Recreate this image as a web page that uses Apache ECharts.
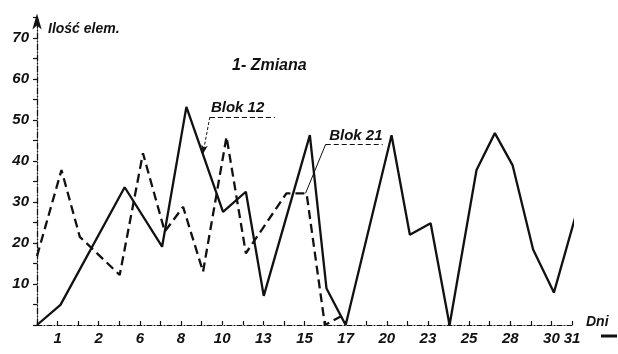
<!DOCTYPE html>
<html>
<head>
<meta charset="utf-8">
<style>
  html, body { margin: 0; padding: 0; background: #fff; }
  #chart { width: 618px; height: 354px; }
</style>
<script src="https://cdn.jsdelivr.net/npm/echarts@6/dist/echarts.min.js"></script>
</head>
<body>
<div id="chart"></div>
<script>
// Horizontal positions are measured in axis steps (one step per tick mark);
// the day numbers written under the axis sit at selected steps.
const dayTickSteps  = [1, 3, 5, 7, 9, 11, 13, 15, 17, 19, 21, 23, 25, 26];
const dayTickLabels = ['1', '2', '6', '8', '10', '13', '15', '17', '20', '23', '25', '28', '30', '31'];

// Blok 12 (solid line)
const blok12Steps  = [0, 1.14, 4.26, 6.08, 7.26, 9.04, 10.15, 11.02, 13.26, 14.07, 15.0, 17.23, 18.12, 19.13, 20.05, 21.36, 22.25, 23.11, 24.11, 25.12, 26.22];
const blok12Values = [0, 4.9, 33.6, 19.1, 53.2, 27.6, 32.5, 7.1, 46.3, 8.9, 0, 46.3, 22, 24.8, 0, 37.8, 46.8, 39, 18.4, 7.9, 27.4];

// Blok 21 (dashed line)
const blok21Steps  = [0, 1.19, 2.08, 4.02, 5.15, 6.21, 7.1, 8.07, 9.21, 10.15, 12.12, 13.1, 13.99, 14.88];
const blok21Values = [16.8, 37.8, 21.5, 12.2, 41.9, 22.8, 28.8, 13, 45.9, 17.5, 32.1, 32.1, 0, 2.4];

const INK = '#111';
const HAND = { fontFamily: 'Liberation Sans', fontStyle: 'italic', fontWeight: 'bold', color: INK };

function pairs(xs, ys) { return xs.map((x, i) => [x, ys[i]]); }

const chart = echarts.init(document.getElementById('chart'), null, { renderer: 'canvas' });

chart.setOption({
  animation: false,
  backgroundColor: '#fff',
  grid: { left: 37, right: 46, top: 17.5, bottom: 29, containLabel: false },
  xAxis: {
    type: 'value',
    min: 0, max: 26, interval: 1,
    axisLine: { show: true, lineStyle: { color: INK, width: 1.2, type: [5, 2, 1, 2] } },
    axisTick: { show: true, inside: true, length: 4, lineStyle: { color: INK, width: 1.2 } },
    axisLabel: {
      ...HAND, fontSize: 15, margin: 6,
      formatter: v => { const i = dayTickSteps.indexOf(v); return i >= 0 ? dayTickLabels[i] : ''; }
    },
    splitLine: { show: false }
  },
  yAxis: {
    type: 'value',
    min: 0, max: 75, interval: 5,
    axisLine: {
      show: true, symbol: ['none', 'arrow'], symbolSize: [7, 16], symbolOffset: [0, 4],
      lineStyle: { color: INK, width: 1.3, type: [6, 2, 1, 2] }
    },
    axisTick: { show: true, length: 4, lineStyle: { color: INK, width: 1.2 } },
    axisLabel: {
      ...HAND, fontSize: 15, margin: 8,
      formatter: v => (v > 0 && v <= 70 && v % 10 === 0) ? String(v) : ''
    },
    splitLine: { show: false }
  },
  series: [
    {
      name: 'Blok 12',
      type: 'line',
      data: pairs(blok12Steps, blok12Values),
      clip: false,
      symbol: 'none',
      lineStyle: { color: INK, width: 2.3 },
      markLine: {
        silent: true,
        symbol: ['none', 'none'],
        label: { show: false },
        data: [
          [
            { coord: [8.4, 50.7], symbol: 'none', lineStyle: { color: INK, width: 1, type: [3, 2] } },
            { coord: [8.06, 41.7], symbol: 'arrow', symbolSize: [5, 9] }
          ],
          [
            { coord: [8.4, 50.7], lineStyle: { color: INK, width: 1, type: [5, 3] } },
            { coord: [11.56, 50.7] }
          ]
        ]
      },
      markPoint: {
        silent: true,
        symbol: 'circle', symbolSize: 0,
        data: [{
          coord: [8.45, 50.7],
          label: { show: true, formatter: 'Blok 12', position: [0, -17], ...HAND, fontSize: 15 }
        }]
      }
    },
    {
      name: 'Blok 21',
      type: 'line',
      data: pairs(blok21Steps, blok21Values),
      clip: false,
      symbol: 'none',
      lineStyle: { color: INK, width: 2.3, type: [9, 5] },
      markLine: {
        silent: true,
        symbol: ['none', 'none'],
        label: { show: false },
        data: [
          [
            { coord: [14.03, 44.1], lineStyle: { color: INK, width: 1, type: 'solid' } },
            { coord: [13.05, 32.1] }
          ],
          [
            { coord: [14.03, 44.1], lineStyle: { color: INK, width: 1, type: [5, 3] } },
            { coord: [16.8, 44.1] }
          ]
        ]
      },
      markPoint: {
        silent: true,
        symbol: 'circle', symbolSize: 0,
        data: [{
          coord: [14.2, 44.1],
          label: { show: true, formatter: 'Blok 21', position: [0, -16], ...HAND, fontSize: 15 }
        }]
      }
    }
  ],
  graphic: [
    {
      type: 'text', left: 232, top: 58,
      style: { text: '1- Zmiana', font: 'italic bold 16px "Liberation Sans"', fill: INK }
    },
    {
      type: 'text', left: 48, top: 22,
      style: { text: 'Ilość elem.', font: 'italic bold 14px "Liberation Sans"', fill: INK }
    },
    {
      type: 'text', left: 586, top: 315,
      style: { text: 'Dni', font: 'italic bold 14px "Liberation Sans"', fill: INK }
    },
    {
      type: 'line',
      shape: { x1: 601, y1: 336, x2: 617, y2: 336 },
      style: { stroke: INK, lineWidth: 3 }
    }
  ]
});
</script>
</body>
</html>
